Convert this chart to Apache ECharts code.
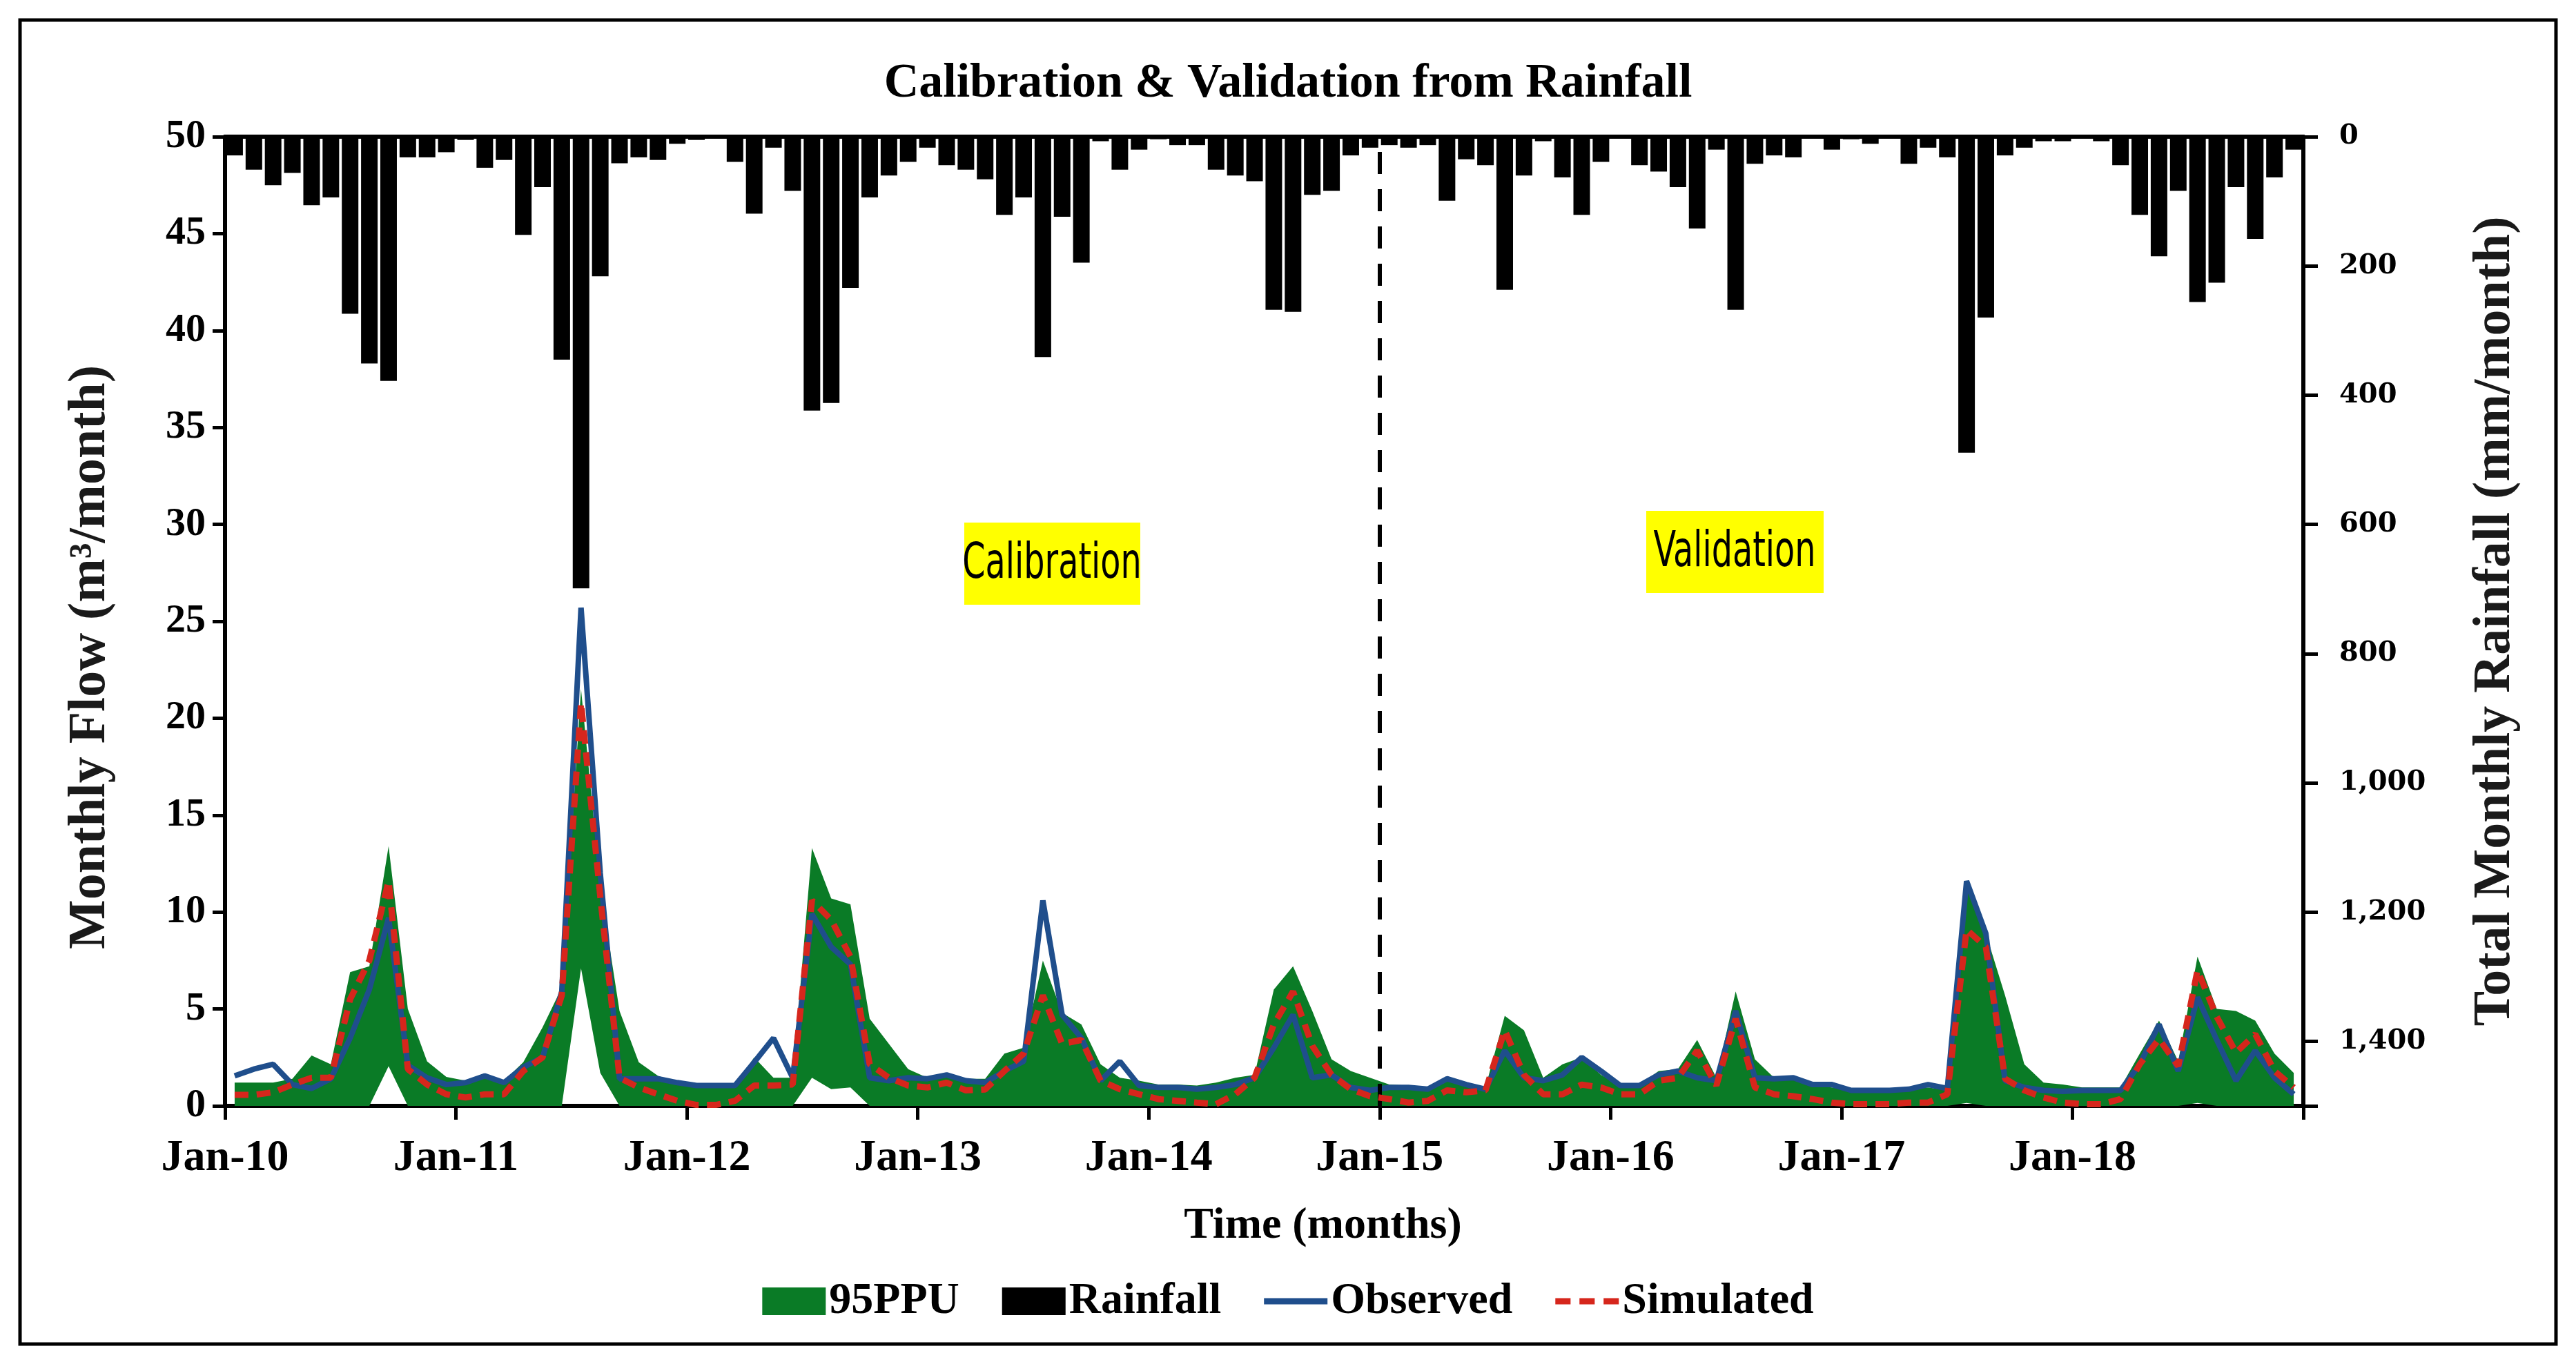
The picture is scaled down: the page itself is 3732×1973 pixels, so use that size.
<!DOCTYPE html>
<html>
<head>
<meta charset="utf-8">
<title>Calibration &amp; Validation from Rainfall</title>
<script src="https://cdn.jsdelivr.net/npm/echarts@6/dist/echarts.min.js"></script>
<style>
  html, body { margin: 0; padding: 0; background: #fff; }
  #main { width: 3732px; height: 1973px; }
</style>
</head>
<body>
<div id="main"></div>
<script>
// month categories Jan-10 .. Dec-18
const monthNames = ["Jan", "Feb", "Mar", "Apr", "May", "Jun", "Jul", "Aug", "Sep", "Oct", "Nov", "Dec"];
const years = ["10", "11", "12", "13", "14", "15", "16", "17", "18"];
const months = [];
years.forEach(function (y) {
  monthNames.forEach(function (m) { months.push(m + "-" + y); });
});

// tick labels on the time axis (one per January)
const yearLabels = ["Jan-10", "Jan-11", "Jan-12", "Jan-13", "Jan-14", "Jan-15", "Jan-16", "Jan-17", "Jan-18"];
const splitMonth = 60; // Jan-15, start of validation

// total monthly rainfall (mm/month)
const rainfall = [
  29, 51, 75, 56, 106, 94, 274, 351, 378, 32, 32, 24,
  5, 48, 36, 152, 78, 345, 699, 216, 41, 32, 36, 11,
  5, 2, 39, 119, 17, 84, 424, 412, 234, 94, 60, 39,
  17, 44, 51, 66, 121, 94, 341, 124, 195, 7, 51, 20,
  4, 13, 13, 51, 60, 69, 268, 271, 90, 84, 29, 17,
  13, 17, 13, 99, 35, 44, 237, 60, 7, 63, 121, 39,
  2, 44, 54, 78, 142, 20, 268, 42, 29, 32, 2, 20,
  4, 11, 2, 42, 17, 32, 489, 280, 29, 17, 7, 7,
  2, 7, 44, 121, 185, 84, 256, 226, 78, 158, 63, 20
];

// observed monthly flow (m3/month)
const observed = [
  1.55, 1.9, 2.15, 1.1, 0.9, 1.4, 3.5, 6.0, 9.7, 2.1, 1.45, 1.1,
  1.2, 1.55, 1.2, 2.0, 2.5, 5.9, 25.7, 12.0, 1.4, 1.4, 1.4, 1.2,
  1.05, 1.05, 1.05, 2.25, 3.5, 1.45, 9.9, 8.2, 7.3, 1.45, 1.3, 1.45,
  1.4, 1.6, 1.3, 1.2, 1.8, 2.3, 10.6, 4.7, 3.5, 1.3, 2.3, 1.05,
  0.95, 0.95, 0.86, 0.95, 1.1, 1.45, 3.0, 4.7, 1.45, 1.6, 0.95, 0.8,
  0.95, 0.95, 0.86, 1.4, 1.1, 0.86, 2.85, 1.45, 1.3, 1.6, 2.5, 1.8,
  1.05, 1.05, 1.6, 1.8, 1.45, 1.3, 4.9, 1.45, 1.4, 1.45, 1.1, 1.1,
  0.8, 0.8, 0.8, 0.86, 1.1, 0.9, 11.6, 8.9, 1.3, 0.95, 0.8, 0.75,
  0.8, 0.8, 0.8, 2.15, 4.2, 1.8, 5.6, 3.4, 1.3, 2.85, 1.45, 0.6
];

// simulated monthly flow (m3/month)
const simulated = [
  0.57, 0.57, 0.7, 1.1, 1.45, 1.45, 5.5, 7.5, 11.6, 1.9, 1.1, 0.6,
  0.43, 0.6, 0.6, 1.8, 2.5, 5.7, 20.8, 10.8, 1.45, 0.95, 0.6, 0.26,
  0.05, 0.05, 0.26, 1.05, 1.05, 1.1, 10.6, 9.6, 7.7, 2.15, 1.45, 1.05,
  0.95, 1.2, 0.8, 0.85, 1.8, 2.7, 5.7, 3.2, 3.4, 1.3, 0.86, 0.6,
  0.35, 0.26, 0.17, 0.09, 0.6, 1.45, 4.2, 5.9, 3.1, 1.6, 0.86, 0.5,
  0.35, 0.17, 0.26, 0.8, 0.7, 0.8, 3.9, 1.6, 0.6, 0.6, 1.1, 0.95,
  0.6, 0.6, 1.3, 1.45, 2.85, 1.05, 4.5, 0.95, 0.6, 0.5, 0.35, 0.17,
  0.09, 0.09, 0.09, 0.17, 0.17, 0.6, 9.1, 8.2, 1.4, 0.8, 0.43, 0.17,
  0.09, 0.09, 0.35, 2.15, 3.45, 2.05, 7.0, 4.6, 2.75, 3.7, 1.8, 0.95
];

// 95PPU band, upper and lower bounds
const ppuUpper = [
  1.2, 1.2, 1.2, 1.4, 2.6, 2.15, 6.9, 7.2, 13.4, 5.0, 2.3, 1.5,
  1.3, 1.55, 1.3, 2.25, 4.05, 6.1, 21.5, 11.3, 4.9, 2.25, 1.55, 1.2,
  1.1, 1.1, 1.1, 2.5, 1.45, 1.45, 13.3, 10.7, 10.4, 4.5, 3.2, 1.9,
  1.45, 1.6, 1.4, 1.4, 2.7, 3.0, 7.5, 4.8, 4.2, 2.15, 1.45, 1.3,
  1.1, 1.1, 1.05, 1.2, 1.45, 1.6, 6.0, 7.2, 4.9, 2.4, 1.8, 1.45,
  1.1, 1.05, 0.95, 1.45, 1.2, 0.95, 4.65, 3.9, 1.45, 2.15, 2.5, 1.6,
  1.05, 1.1, 1.8, 1.9, 3.4, 1.45, 5.9, 2.4, 1.45, 1.45, 1.05, 0.95,
  0.8, 0.8, 0.8, 0.86, 0.95, 0.8, 11.3, 8.9, 5.7, 2.15, 1.2, 1.1,
  0.95, 0.95, 0.95, 2.7, 4.4, 2.3, 7.7, 5.0, 4.9, 4.4, 2.7, 1.7
];
const ppuLower = [
  0, 0, 0, 0, 0, 0, 0, 0, 2.05, 0, 0, 0,
  0, 0, 0, 0, 0, 0, 7.1, 1.7, 0, 0, 0, 0,
  0, 0, 0, 0, 0, 0, 1.45, 0.86, 0.95, 0, 0, 0,
  0, 0, 0, 0, 0, 0, 0, 0, 0, 0, 0, 0,
  0, 0, 0, 0, 0, 0, 0, 0, 0, 0, 0, 0,
  0, 0, 0, 0, 0, 0, 0, 0, 0, 0, 0, 0,
  0, 0, 0, 0, 0, 0, 0, 0, 0, 0, 0, 0,
  0, 0, 0, 0, 0, 0, 0.15, 0, 0, 0, 0, 0,
  0, 0, 0, 0, 0, 0, 0.15, 0, 0, 0, 0, 0
];
const ppuWidth = ppuUpper.map(function (v, i) { return +(v - ppuLower[i]).toFixed(3); });

const SERIF = "'Liberation Serif', 'Times New Roman', serif";
const NARROW = "'Liberation Sans Narrow', 'DejaVu Sans Condensed', 'Open Sans', sans-serif";
const GREEN = "#0a7b26";
const BLUE = "#1f4e8c";
const RED = "#d6261c";

// legend icons for the two lines: a solid bar and three dashes
const ICON_SOLID = "path://M0,0H10V1H0Z";
const ICON_DASH = "path://M0,0H2.4V1H0Z M3.8,0H6.2V1H3.8Z M7.6,0H10V1H7.6Z";

const axisLine = { show: true, onZero: false, lineStyle: { color: "#000", width: 6 } };

const chart = echarts.init(document.getElementById("main"));

const option = {
  animation: false,
  backgroundColor: "#fff",
  title: {
    text: "Calibration & Validation from Rainfall",
    left: "center",
    top: 82,
    textStyle: { fontFamily: SERIF, fontWeight: "bold", fontSize: 70, color: "#000" }
  },
  legend: {
    top: 1848,
    left: "center",
    itemWidth: 92,
    itemHeight: 40,
    itemGap: 62,
    textStyle: { fontFamily: SERIF, fontWeight: "bold", fontSize: 64, color: "#000" },
    data: [
      { name: "95PPU", icon: "rect" },
      { name: "Rainfall", icon: "rect" },
      { name: "Observed", icon: ICON_SOLID },
      { name: "Simulated", icon: ICON_DASH }
    ]
  },
  grid: { left: 326, right: 395, top: 198, bottom: 371 },
  xAxis: [
    {
      type: "category",
      data: months,
      position: "top",
      boundaryGap: true,
      axisLine: axisLine,
      axisTick: { show: false },
      axisLabel: { show: false },
      splitLine: { show: false }
    },
    {
      type: "value",
      position: "bottom",
      min: 0,
      max: 108,
      interval: 12,
      axisLine: axisLine,
      axisTick: { show: true, length: 20, lineStyle: { color: "#000", width: 5 } },
      axisLabel: {
        margin: 44,
        fontFamily: SERIF,
        fontWeight: "bold",
        fontSize: 64,
        color: "#000",
        formatter: function (v) { return yearLabels[v / 12] || ""; }
      },
      splitLine: { show: false },
      name: "Time (months)",
      nameLocation: "middle",
      nameGap: 142,
      nameTextStyle: { fontFamily: SERIF, fontWeight: "bold", fontSize: 64, color: "#000", padding: [0, 0, 0, 170] }
    }
  ],
  yAxis: [
    {
      type: "value",
      position: "left",
      min: 0,
      max: 50,
      interval: 5,
      axisLine: axisLine,
      axisTick: { show: true, length: 18, lineStyle: { color: "#000", width: 5 } },
      axisLabel: { margin: 28, fontFamily: SERIF, fontWeight: "bold", fontSize: 58, color: "#000" },
      splitLine: { show: false },
      name: "Monthly Flow (m³/month)",
      nameLocation: "middle",
      nameGap: 157,
      nameTextStyle: { fontFamily: SERIF, fontWeight: "bold", fontSize: 76, color: "#1a1a1a", padding: [0, 104, 0, 0] }
    },
    {
      type: "value",
      position: "right",
      inverse: true,
      min: 0,
      max: 1500,
      interval: 200,
      axisLine: axisLine,
      axisTick: { show: true, length: 21, lineStyle: { color: "#000", width: 5 } },
      axisLabel: {
        margin: 52,
        fontFamily: "'DejaVu Serif', serif",
        fontWeight: "bold",
        fontSize: 40,
        color: "#000",
        formatter: function (v) { return v >= 1500 ? "" : v.toLocaleString("en-US"); }
      },
      splitLine: { show: false },
      name: "Total Monthly Rainfall (mm/month)",
      nameLocation: "middle",
      nameGap: 240,
      nameTextStyle: { fontFamily: SERIF, fontWeight: "bold", fontSize: 76, color: "#1a1a1a" }
    }
  ],
  series: [
    {
      name: "ppuLower",
      type: "line",
      stack: "ppu",
      data: ppuLower,
      symbol: "none",
      lineStyle: { width: 0 },
      silent: true,
      z: 1
    },
    {
      name: "95PPU",
      type: "line",
      stack: "ppu",
      data: ppuWidth,
      symbol: "none",
      color: GREEN,
      lineStyle: { width: 0 },
      areaStyle: { color: GREEN, opacity: 1 },
      z: 2
    },
    {
      name: "Rainfall",
      type: "bar",
      yAxisIndex: 1,
      data: rainfall,
      barWidth: 24,
      color: "#000",
      itemStyle: { color: "#000" },
      z: 3
    },
    {
      name: "Observed",
      type: "line",
      data: observed,
      symbol: "none",
      color: BLUE,
      lineStyle: { color: BLUE, width: 8 },
      z: 4
    },
    {
      name: "Simulated",
      type: "line",
      data: simulated,
      symbol: "none",
      color: RED,
      lineStyle: { color: RED, width: 9, type: [20, 12] },
      z: 5
    },
    {
      name: "split",
      type: "line",
      xAxisIndex: 1,
      data: [],
      markLine: {
        symbol: ["none", "none"],
        silent: true,
        label: { show: false },
        lineStyle: { color: "#000", width: 6, type: [32, 22] },
        data: [{ xAxis: splitMonth }]
      },
      z: 6
    }
  ],
  graphic: [
    {
      type: "rect",
      shape: { x: 29, y: 29, width: 3674, height: 1918 },
      style: { fill: "none", stroke: "#000", lineWidth: 5 },
      silent: true
    },
    {
      type: "rect",
      shape: { x: 1397, y: 757, width: 255, height: 119 },
      style: { fill: "#ffff00" },
      silent: true
    },
    {
      type: "text",
      x: 1524,
      y: 818,
      scaleY: 1.35,
      style: { text: "Calibration", fill: "#000", fontFamily: NARROW, fontSize: 53, align: "center", verticalAlign: "middle" },
      silent: true
    },
    {
      type: "rect",
      shape: { x: 2385, y: 740, width: 257, height: 119 },
      style: { fill: "#ffff00" },
      silent: true
    },
    {
      type: "text",
      x: 2513,
      y: 801,
      scaleY: 1.35,
      style: { text: "Validation", fill: "#000", fontFamily: NARROW, fontSize: 53, align: "center", verticalAlign: "middle" },
      silent: true
    }
  ]
};

chart.setOption(option);
</script>
</body>
</html>
